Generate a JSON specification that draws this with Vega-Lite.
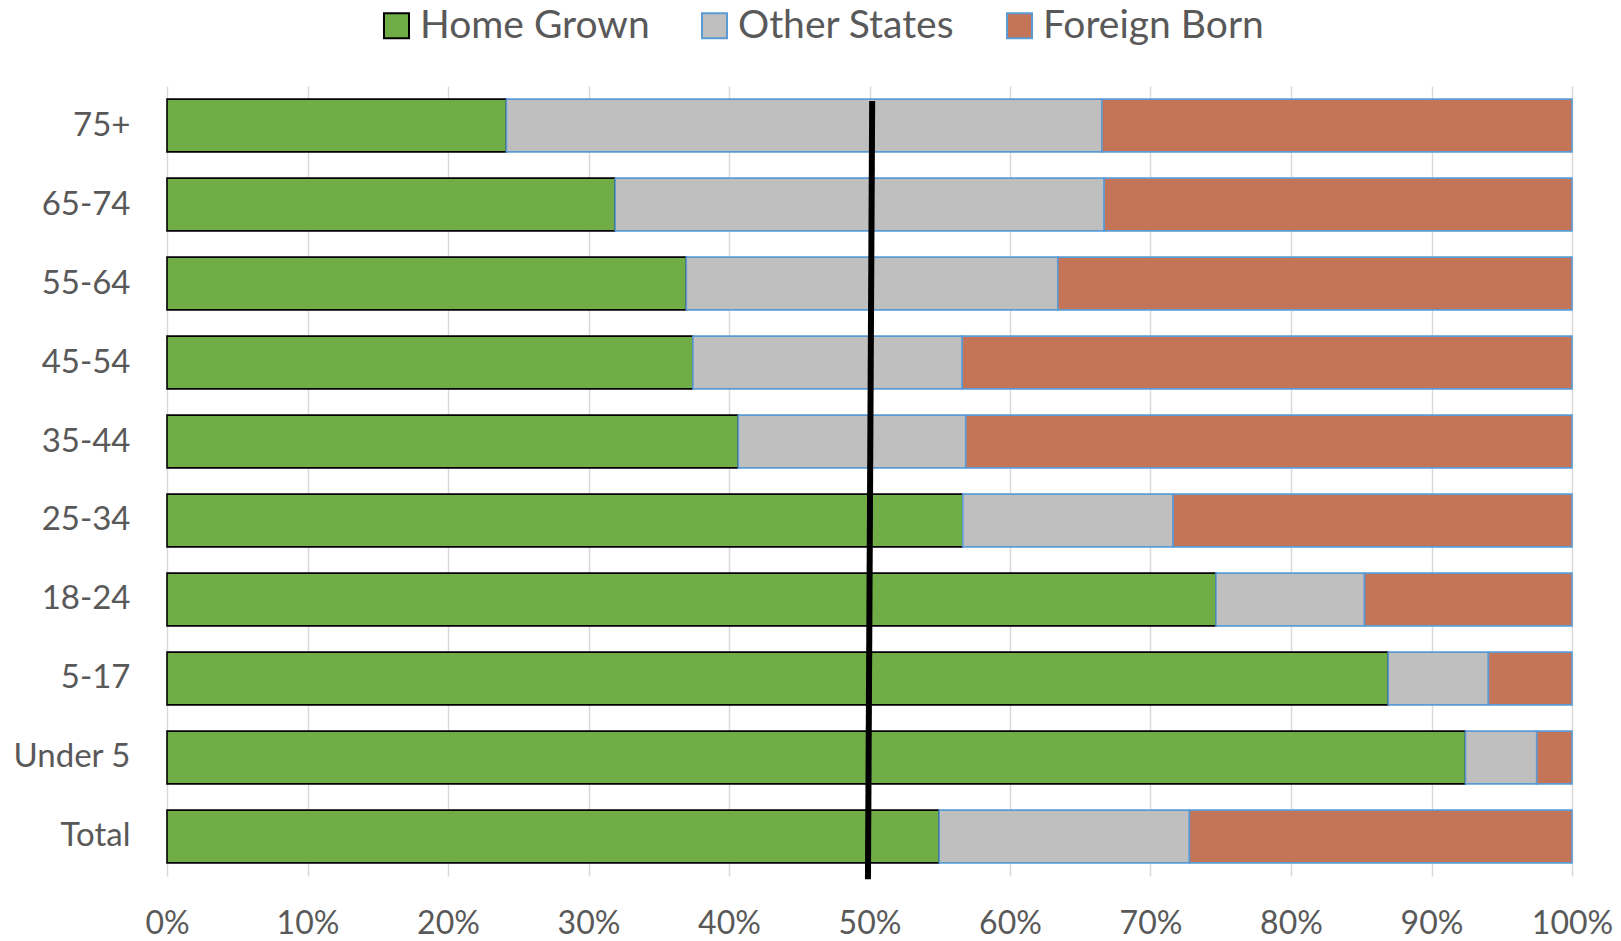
{
  "$schema": "https://vega.github.io/schema/vega-lite/v6.json",
  "autosize": {"type": "none"},
  "width": 1405,
  "height": 790,
  "padding": {"left": 167, "top": 86, "right": 49, "bottom": 65},
  "background": "white",
  "config": {
    "view": {"stroke": null},
    "font": "Lato"
  },
  "layer": [
    {
      "data": {
        "values": [
          {"age": "75+", "group": "Home Grown", "pct": 24.16},
          {"age": "75+", "group": "Other States", "pct": 42.38},
          {"age": "75+", "group": "Foreign Born", "pct": 33.46},
          {"age": "65-74", "group": "Home Grown", "pct": 31.9},
          {"age": "65-74", "group": "Other States", "pct": 34.8},
          {"age": "65-74", "group": "Foreign Born", "pct": 33.3},
          {"age": "55-64", "group": "Home Grown", "pct": 36.96},
          {"age": "55-64", "group": "Other States", "pct": 26.44},
          {"age": "55-64", "group": "Foreign Born", "pct": 36.6},
          {"age": "45-54", "group": "Home Grown", "pct": 37.43},
          {"age": "45-54", "group": "Other States", "pct": 19.17},
          {"age": "45-54", "group": "Foreign Born", "pct": 43.4},
          {"age": "35-44", "group": "Home Grown", "pct": 40.66},
          {"age": "35-44", "group": "Other States", "pct": 16.19},
          {"age": "35-44", "group": "Foreign Born", "pct": 43.15},
          {"age": "25-34", "group": "Home Grown", "pct": 56.64},
          {"age": "25-34", "group": "Other States", "pct": 14.97},
          {"age": "25-34", "group": "Foreign Born", "pct": 28.39},
          {"age": "18-24", "group": "Home Grown", "pct": 74.66},
          {"age": "18-24", "group": "Other States", "pct": 10.57},
          {"age": "18-24", "group": "Foreign Born", "pct": 14.77},
          {"age": "5-17", "group": "Home Grown", "pct": 86.92},
          {"age": "5-17", "group": "Other States", "pct": 7.13},
          {"age": "5-17", "group": "Foreign Born", "pct": 5.95},
          {"age": "Under 5", "group": "Home Grown", "pct": 92.42},
          {"age": "Under 5", "group": "Other States", "pct": 5.07},
          {"age": "Under 5", "group": "Foreign Born", "pct": 2.51},
          {"age": "Total", "group": "Home Grown", "pct": 54.96},
          {"age": "Total", "group": "Other States", "pct": 17.81},
          {"age": "Total", "group": "Foreign Born", "pct": 27.23}
        ]
      },
      "transform": [
        {"calculate": "indexof(['Home Grown','Other States','Foreign Born'], datum.group)", "as": "rank"}
      ],
      "mark": {"type": "bar", "strokeWidth": 1.6},
      "encoding": {
        "y": {
          "field": "age",
          "type": "nominal",
          "sort": ["75+", "65-74", "55-64", "45-54", "35-44", "25-34", "18-24", "5-17", "Under 5", "Total"],
          "scale": {"paddingInner": 0.333, "paddingOuter": 0.1667},
          "axis": {
            "title": null,
            "domain": false,
            "ticks": false,
            "grid": false,
            "labelFont": "Lato",
            "labelFontSize": 33,
            "labelColor": "#595959",
            "labelPadding": 37
          }
        },
        "x": {
          "field": "pct",
          "type": "quantitative",
          "stack": "zero",
          "scale": {"domain": [0, 100], "nice": false},
          "axis": {
            "title": null,
            "values": [0, 10, 20, 30, 40, 50, 60, 70, 80, 90, 100],
            "labelExpr": "datum.value + '%'",
            "domain": false,
            "ticks": false,
            "grid": true,
            "gridColor": "#D9D9D9",
            "gridWidth": 1.5,
            "labelFont": "Lato",
            "labelFontSize": 32,
            "labelColor": "#595959",
            "labelPadding": 47,
            "labelBaseline": "middle",
            "labelAlign": "center",
            "labelFlush": false,
            "labelOverlap": false
          }
        },
        "order": {"field": "rank", "type": "quantitative"},
        "color": {
          "field": "group",
          "type": "nominal",
          "sort": ["Home Grown", "Other States", "Foreign Born"],
          "scale": {
            "domain": ["Home Grown", "Other States", "Foreign Born"],
            "range": ["#70AD47", "#BFBFBF", "#C47558"]
          },
          "legend": {
            "title": null,
            "orient": "none",
            "direction": "horizontal",
            "legendX": 210,
            "legendY": -80,
            "padding": 0,
            "symbolType": "square",
            "symbolSize": 625,
            "symbolStrokeWidth": 2,
            "symbolOpacity": 1,
            "labelFont": "Lato",
            "labelFontSize": 39,
            "labelColor": "#595959",
            "labelOffset": 4,
            "columnPadding": 45,
            "labelLimit": 0
          }
        },
        "stroke": {
          "field": "group",
          "type": "nominal",
          "sort": ["Home Grown", "Other States", "Foreign Born"],
          "scale": {
            "domain": ["Home Grown", "Other States", "Foreign Born"],
            "range": ["#000000", "#5B9BD5", "#5B9BD5"]
          },
          "legend": {
            "title": null,
            "orient": "none",
            "direction": "horizontal",
            "legendX": 210,
            "legendY": -80,
            "padding": 0,
            "symbolType": "square",
            "symbolSize": 625,
            "symbolStrokeWidth": 2,
            "symbolOpacity": 1,
            "labelFont": "Lato",
            "labelFontSize": 39,
            "labelColor": "#595959",
            "labelOffset": 4,
            "columnPadding": 45,
            "labelLimit": 0
          }
        }
      }
    },
    {
      "data": {"values": [{"x": 50.19, "x2": 49.89, "y": 0.981, "y2": -0.004}]},
      "mark": {"type": "rule", "color": "#000000", "strokeWidth": 6, "strokeCap": "butt", "clip": false},
      "encoding": {
        "x": {"field": "x", "type": "quantitative"},
        "x2": {"field": "x2"},
        "y": {"field": "y", "type": "quantitative", "scale": {"domain": [0, 1], "nice": false, "zero": false}, "axis": null},
        "y2": {"field": "y2"}
      }
    }
  ],
  "resolve": {"scale": {"y": "independent"}}
}
